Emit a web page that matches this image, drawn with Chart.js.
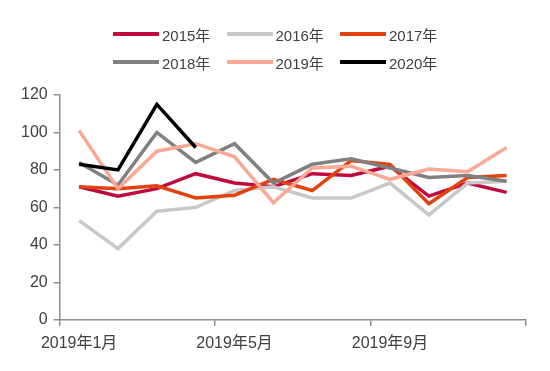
<!DOCTYPE html>
<html>
<head>
<meta charset="utf-8">
<script src="https://cdn.jsdelivr.net/npm/chart.js@4"></script>
<style>
    body { margin: 0; background: #fff; }
    #wrap { position: relative; width: 550px; height: 371px; }
    #legend {
        position: absolute; left: 113px; top: 24px;
        display: grid; grid-template-columns: 113.5px 113.5px 113.5px; row-gap: 8px;
        font: 15px "Liberation Sans", "Noto Sans CJK SC", sans-serif; color: #404040;
    }
    .item { display: flex; align-items: center; height: 20px; white-space: nowrap; }
    .item .line { width: 46px; height: 4.5px; margin-right: 3px; }
</style>
</head>
<body>
<div id="wrap">
    <canvas id="chart" width="550" height="371"></canvas>
    <div id="legend"></div>
</div>
<script>
    // Data
    var months = ["2019年1月", "2019年2月", "2019年3月", "2019年4月", "2019年5月", "2019年6月",
                  "2019年7月", "2019年8月", "2019年9月", "2019年10月", "2019年11月", "2019年12月"];
    var years = ["2015年", "2016年", "2017年", "2018年", "2019年", "2020年"];
    var colors = ["#BE0A3C", "#C8C8C8", "#E2420E", "#808080", "#F8A893", "#000000"];
    var y2015 = [71, 66, 70, 78, 73, 71, 78, 77, 82, 66, 73, 68];
    var y2016 = [53, 38, 58, 60, 69, 71, 65, 65, 73, 56, 73, 74];
    var y2017 = [71, 70, 71.5, 65, 66.5, 75, 69, 85, 83, 62, 76, 77];
    var y2018 = [84, 72, 100, 84, 94, 73, 83, 86, 81, 76, 77, 74];
    var y2019 = [101, 70, 90, 94, 87, 62.5, 81, 82, 75, 80.5, 79, 92];
    var y2020 = [83, 80, 115, 92];
    var yTicks = [0, 20, 40, 60, 80, 100, 120];

    var series = [y2015, y2016, y2017, y2018, y2019, y2020];
    var fontFamily = '"Liberation Sans", "Noto Sans CJK SC", sans-serif';
    var axisColor = "#8C8C8C";

    var datasets = series.map(function (values, i) {
        return {
            label: years[i],
            data: values,
            borderColor: colors[i],
            backgroundColor: colors[i],
            borderWidth: 3.5,
            pointRadius: 0,
            tension: 0,
            fill: false,
            order: series.length - 1 - i
        };
    });

    var ctx = document.getElementById("chart").getContext("2d");
    var chart = new Chart(ctx, {
        type: "line",
        data: { labels: months, datasets: datasets },
        options: {
            responsive: false,
            animation: false,
            layout: { padding: { top: 95, left: 15, right: 24, bottom: 10 } },
            plugins: { legend: { display: false }, tooltip: { enabled: false } },
            scales: {
                x: {
                    offset: true,
                    border: { color: axisColor, width: 1.5 },
                    grid: {
                        offset: true,
                        drawOnChartArea: false,
                        drawTicks: true,
                        tickLength: 6,
                        lineWidth: 1.5,
                        color: function (c) {
                            return (c.index === undefined || c.index % 4 === 0) ? axisColor : "rgba(0,0,0,0)";
                        }
                    },
                    ticks: {
                        autoSkip: false,
                        maxRotation: 0,
                        padding: 8,
                        color: "#404040",
                        font: { family: fontFamily, size: 16 },
                        callback: function (v, i) { return i % 4 === 0 ? months[i] : ""; }
                    }
                },
                y: {
                    min: 0,
                    max: 120,
                    afterBuildTicks: function (axis) {
                        axis.ticks = yTicks.map(function (v) { return { value: v }; });
                    },
                    border: { color: axisColor, width: 1.5 },
                    grid: { drawOnChartArea: false, tickLength: 6, lineWidth: 1.5, color: axisColor },
                    ticks: {
                        padding: 6,
                        color: "#404040",
                        font: { family: fontFamily, size: 16 }
                    }
                }
            }
        }
    });

    // Legend in three columns
    var legend = document.getElementById("legend");
    chart.data.datasets.forEach(function (ds) {
        var item = document.createElement("div");
        item.className = "item";
        var line = document.createElement("span");
        line.className = "line";
        line.style.background = ds.borderColor;
        var txt = document.createElement("span");
        txt.textContent = ds.label;
        item.appendChild(line);
        item.appendChild(txt);
        legend.appendChild(item);
    });
</script>
</body>
</html>
